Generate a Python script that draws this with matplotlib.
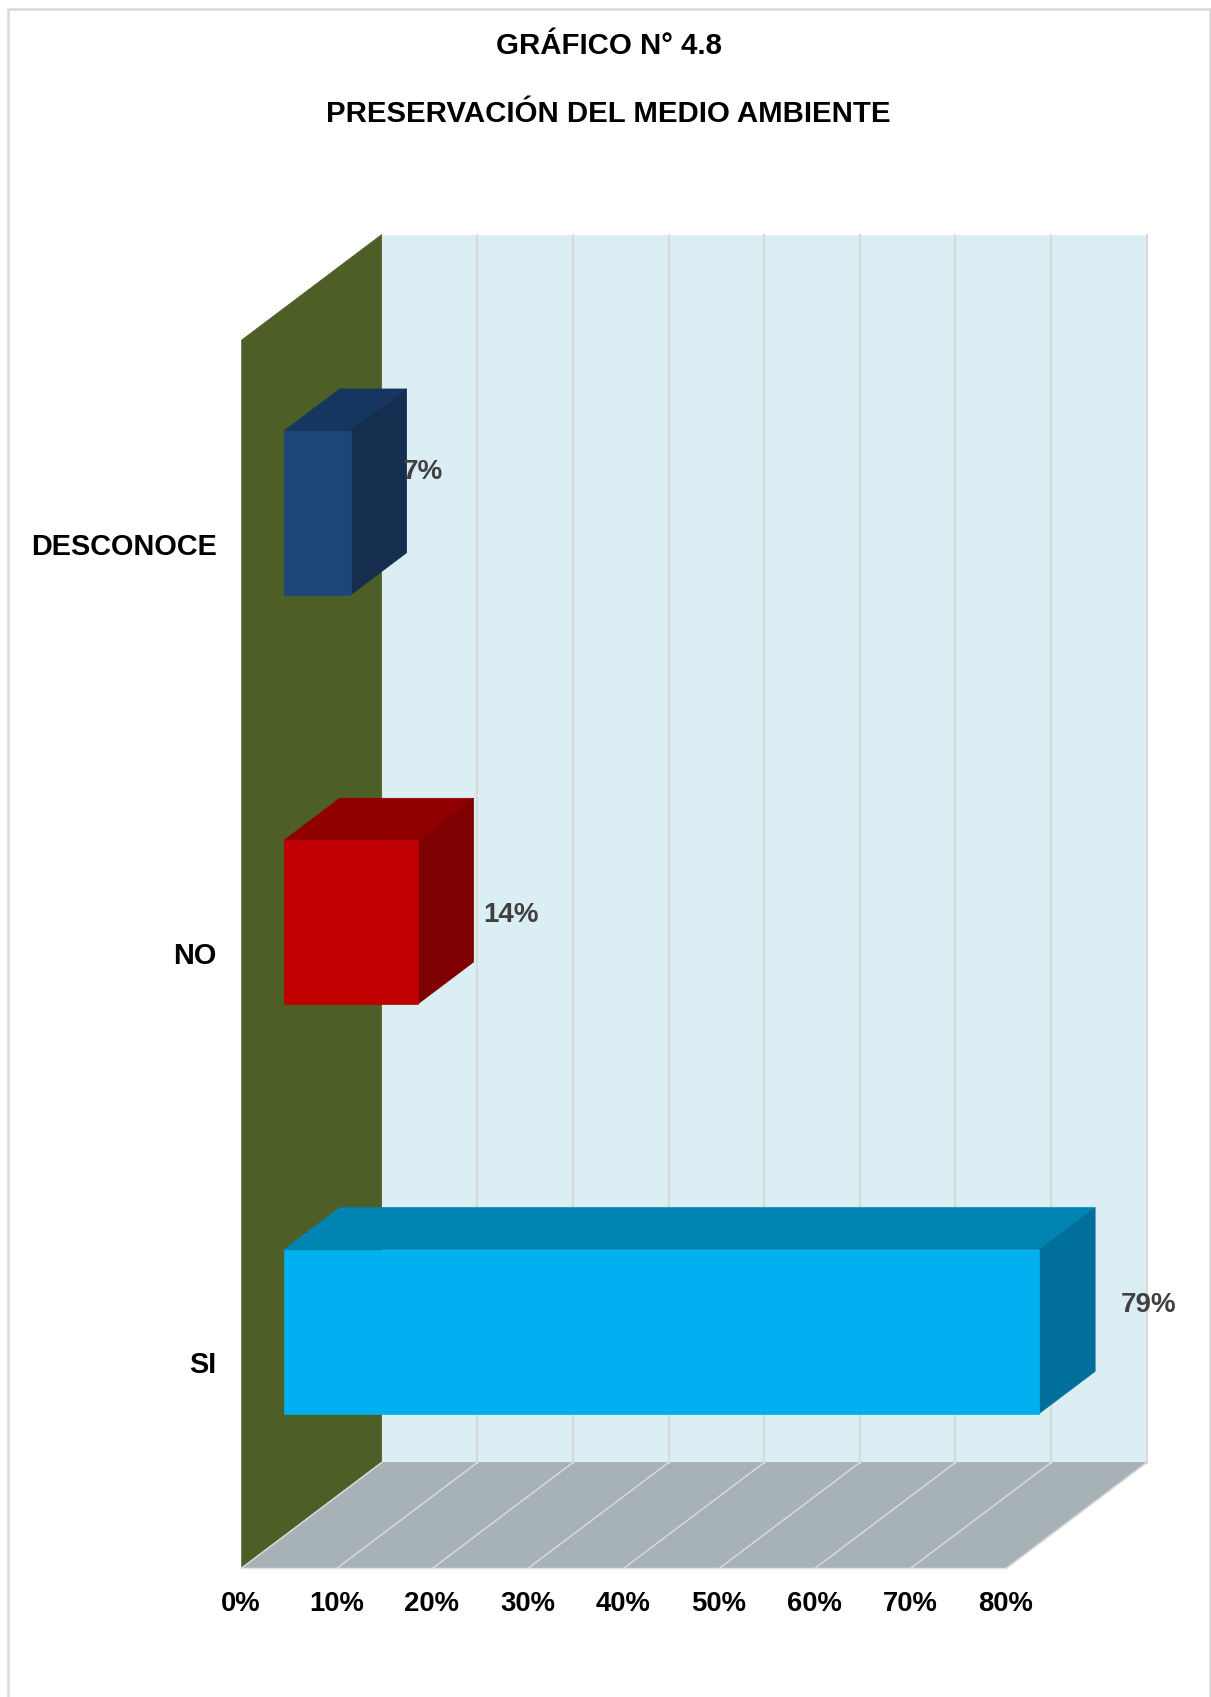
import matplotlib
matplotlib.use("Agg")
import matplotlib.pyplot as plt
from matplotlib.patches import Polygon

plt.rcParams['font.family'] = ['Liberation Sans', 'DejaVu Sans']

# datos del grafico
categorias = ["SI", "NO", "DESCONOCE"]
valores = [79, 14, 7]
ticks_x = [0, 10, 20, 30, 40, 50, 60, 70, 80]
titulo1 = "GRÁFICO N° 4.8"
titulo2 = "PRESERVACIÓN DEL MEDIO AMBIENTE"

# colores de cada barra: frente, tapa, costado
color_frente = ["#00b0f0", "#c00000", "#1d4679"]
color_tapa = ["#0084b4", "#900000", "#15375f"]
color_lado = ["#00709a", "#7f0000", "#152d4f"]

# escala de la figura en pixeles
W, H = 1211, 1697
x0_px, esc_x = 241.7, 765 / 80
y0_px, esc_y = 1568, 1228 / 3
prof_x = 140 / esc_x
prof_y = 105.5 / esc_y


def pt(x, y, d=0.0):
    # punto (valor, categoria) llevado a la profundidad d de la caja
    return (x + d * prof_x, y + d * prof_y)


def cara(ax, puntos, color, z=2):
    ax.add_patch(Polygon(puntos, closed=True, facecolor=color, edgecolor=color,
                         linewidth=0.5, zorder=z))


fig = plt.figure(figsize=(W / 100, H / 100), dpi=100)
ax = fig.add_axes([0, 0, 1, 1])
ax.set_xlim(-x0_px / esc_x, (W - x0_px) / esc_x)
ax.set_ylim((y0_px - H) / esc_y, y0_px / esc_y)
ax.axis("off")

n = len(categorias)
xmax = ticks_x[-1]

# pared del fondo, pared lateral y piso
cara(ax, [pt(0, 0, 1), pt(xmax, 0, 1), pt(xmax, n, 1), pt(0, n, 1)], "#dbeef4", 1)
cara(ax, [pt(0, 0, 0), pt(0, 0, 1), pt(0, n, 1), pt(0, n, 0)], "#4e5e27", 1)
cara(ax, [pt(0, 0, 0), pt(xmax, 0, 0), pt(xmax, 0, 1), pt(0, 0, 1)], "#a6b2b5", 1)

# lineas de division
for t in ticks_x:
    if t > 0:
        ax.plot(*zip(pt(t, 0, 1), pt(t, n, 1)), color="#d9d9d9", lw=1.5, zorder=1.5)
    ax.plot(*zip(pt(t, 0, 0), pt(t, 0, 1)), color="#d9d9d9", lw=1.1, zorder=1.5)
ax.plot(*zip(pt(0, 0, 0), pt(xmax, 0, 0)), color="#e4e4e4", lw=1.0, zorder=1.5)

# barras 3D
d1, d2 = 0.3, 0.7
# corrimiento de las etiquetas desde la esquina trasera superior, en pixeles
etiqueta_dx = [53, 37, 16]
etiqueta_dy = [-97, -117, -83]
for i, v in enumerate(valores):
    y1, y2 = i + 0.3, i + 0.7
    cara(ax, [pt(0, y2, d1), pt(v, y2, d1), pt(v, y2, d2), pt(0, y2, d2)], color_tapa[i])
    cara(ax, [pt(v, y1, d1), pt(v, y1, d2), pt(v, y2, d2), pt(v, y2, d1)], color_lado[i])
    cara(ax, [pt(0, y1, d1), pt(v, y1, d1), pt(v, y2, d1), pt(0, y2, d1)], color_frente[i])
    ax.annotate(str(v) + "%", xy=pt(v, y2, d2), xytext=(etiqueta_dx[i], etiqueta_dy[i]),
                textcoords="offset pixels", ha="center", va="center",
                fontsize=20, fontweight="bold", color="#404040", zorder=5)
    ax.annotate(categorias[i], xy=pt(0, i + 0.5), xytext=(-25, -2),
                textcoords="offset pixels", ha="right", va="center",
                fontsize=20.8, fontweight="bold", color="black")

for t in ticks_x:
    ax.annotate(str(t) + "%", xy=pt(t, 0), xytext=(-1, -36),
                textcoords="offset pixels", ha="center", va="center",
                fontsize=19.8, fontweight="bold", color="black")

# titulos
fig.text(608.5 / W, 1 - 46.5 / H, titulo1, ha="center", va="center",
         fontsize=21.2, fontweight="bold", color="black")
fig.text(608.5 / W, 1 - 114.5 / H, titulo2, ha="center", va="center",
         fontsize=21.2, fontweight="bold", color="black")

# marco exterior, sin linea inferior
fig.add_artist(plt.Line2D([7.5 / W, 7.5 / W, 1209.5 / W, 1209.5 / W],
                          [0, 1 - 8.5 / H, 1 - 8.5 / H, 0],
                          color="#d9d9d9", lw=1.8))

fig.savefig("out.png", dpi=100)
